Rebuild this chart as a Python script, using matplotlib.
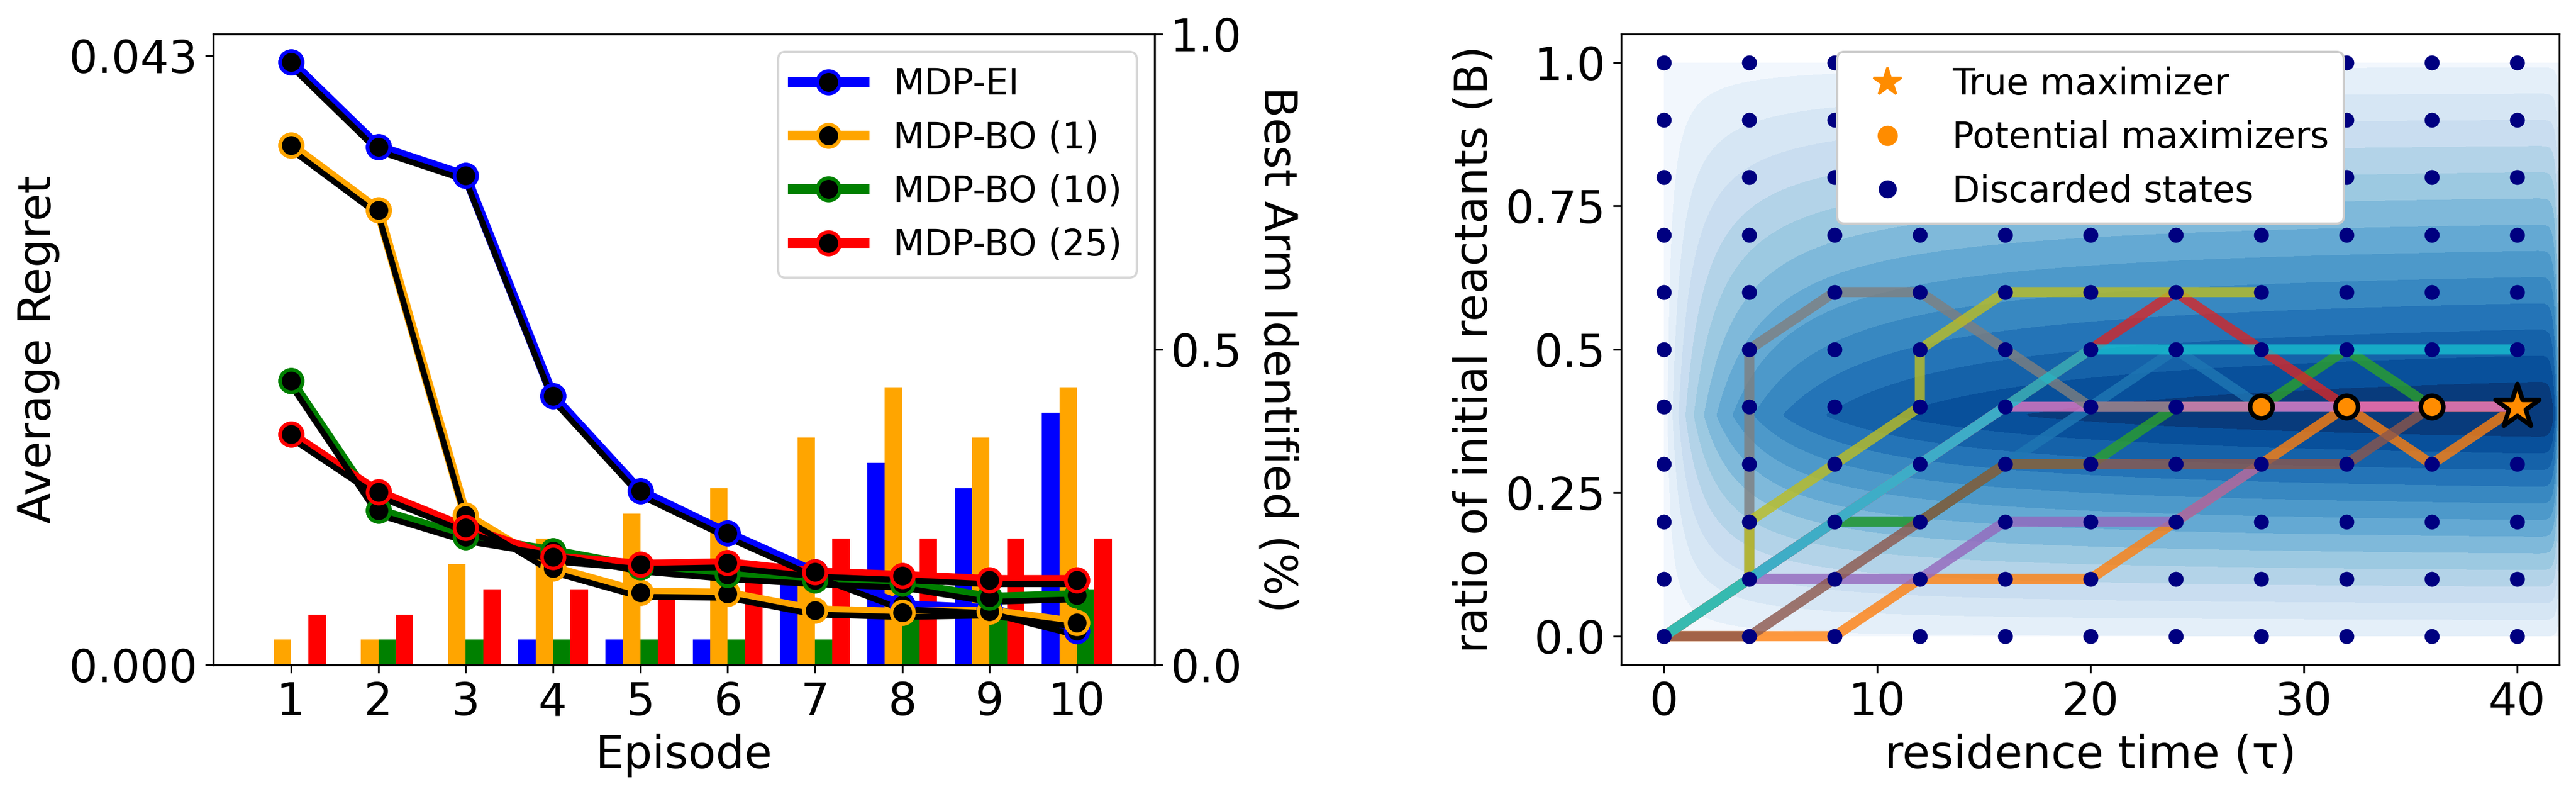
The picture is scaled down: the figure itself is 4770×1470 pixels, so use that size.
import numpy as np
import matplotlib
matplotlib.use("Agg")
import matplotlib.pyplot as plt
from matplotlib.lines import Line2D
from matplotlib.transforms import offset_copy

plt.rcParams['font.family'] = ['DejaVu Sans']
plt.rcParams['font.size'] = 20

# ---------------- Left panel data ----------------
episodes = np.arange(1, 11)
series_names = ['MDP-EI', 'MDP-BO (1)', 'MDP-BO (10)', 'MDP-BO (25)']
series_colors = ['blue', 'orange', 'green', 'red']

regret_ei = [0.04257, 0.03657, 0.03453, 0.01898, 0.01226, 0.00929, 0.00654, 0.00422, 0.00395, 0.00240]
regret_bo1 = [0.03668, 0.03210, 0.01058, 0.00683, 0.00511, 0.00504, 0.00386, 0.00368, 0.00379, 0.00297]
regret_bo10 = [0.02005, 0.01090, 0.00904, 0.00804, 0.00690, 0.00636, 0.00600, 0.00576, 0.00475, 0.00493]
regret_bo25 = [0.01630, 0.01219, 0.00969, 0.00761, 0.00708, 0.00719, 0.00654, 0.00629, 0.00600, 0.00600]

best_ei = [0.00, 0.00, 0.00, 0.04, 0.04, 0.04, 0.16, 0.32, 0.28, 0.40]
best_bo1 = [0.04, 0.04, 0.16, 0.20, 0.24, 0.28, 0.36, 0.44, 0.36, 0.44]
best_bo10 = [0.00, 0.04, 0.04, 0.04, 0.04, 0.04, 0.04, 0.08, 0.08, 0.12]
best_bo25 = [0.08, 0.08, 0.12, 0.12, 0.12, 0.16, 0.20, 0.20, 0.20, 0.20]

regret_max_tick = 0.043
regret_ylim_top = 0.04454

# ---------------- Right panel data ----------------
tau_states = [0, 4, 8, 12, 16, 20, 24, 28, 32, 36, 40]
ratio_states = [0.0, 0.1, 0.2, 0.3, 0.4, 0.5, 0.6, 0.7, 0.8, 0.9, 1.0]

path_blue_x = [0, 4, 8, 12, 16, 20, 24, 28, 32, 36, 40]
path_blue_y = [0.0, 0.1, 0.2, 0.2, 0.3, 0.4, 0.5, 0.4, 0.4, 0.4, 0.4]
path_orange_x = [0, 4, 8, 12, 16, 20, 24, 28, 32, 36, 40]
path_orange_y = [0.0, 0.0, 0.0, 0.1, 0.1, 0.1, 0.2, 0.3, 0.4, 0.3, 0.4]
path_green_x = [0, 4, 8, 12, 16, 20, 24, 28, 32, 36, 40]
path_green_y = [0.0, 0.1, 0.2, 0.2, 0.3, 0.3, 0.4, 0.4, 0.5, 0.4, 0.4]
path_red_x = [0, 4, 8, 12, 16, 20, 24, 28, 32, 36, 40]
path_red_y = [0.0, 0.1, 0.2, 0.3, 0.4, 0.5, 0.6, 0.5, 0.4, 0.4, 0.4]
path_purple_x = [0, 4, 8, 12, 16, 20, 24, 28]
path_purple_y = [0.0, 0.1, 0.1, 0.1, 0.2, 0.2, 0.2, 0.3]
path_brown_x = [0, 4, 8, 12, 16, 20, 24, 28, 32, 36, 40]
path_brown_y = [0.0, 0.0, 0.1, 0.2, 0.3, 0.3, 0.3, 0.3, 0.3, 0.4, 0.4]
path_pink_x = [0, 4, 8, 12, 16, 20, 24, 28, 32, 36, 40]
path_pink_y = [0.0, 0.1, 0.2, 0.3, 0.4, 0.4, 0.4, 0.4, 0.4, 0.4, 0.4]
path_gray_x = [0, 4, 4, 4, 4, 4, 8, 12, 16, 20, 24]
path_gray_y = [0.0, 0.1, 0.2, 0.3, 0.4, 0.5, 0.6, 0.6, 0.5, 0.4, 0.4]
path_olive_x = [0, 4, 4, 8, 12, 12, 16, 20, 24, 28]
path_olive_y = [0.0, 0.1, 0.2, 0.3, 0.4, 0.5, 0.6, 0.6, 0.6, 0.6]
path_cyan_x = [0, 4, 8, 12, 16, 20, 24, 28, 32, 36, 40]
path_cyan_y = [0.0, 0.1, 0.2, 0.3, 0.4, 0.5, 0.5, 0.5, 0.5, 0.5, 0.5]

potential_x = [28, 32, 36]
potential_y = [0.4, 0.4, 0.4]
true_max_x = [40]
true_max_y = [0.4]

# background yield surface parameters
surf_tau_max = 42.0
surf_peak_ratio = 0.385
surf_half_up = 0.645
surf_half_down = 0.41
surf_tau_scale = 3.0
surf_top_level = 0.848
surf_level_step = 0.066
surf_n_levels = 13

# ---------------- Figure ----------------
fig = plt.figure(figsize=(15.9, 4.9), dpi=300)
ax1 = fig.add_axes([0.0828, 0.1626, 0.3654, 0.7946])
ax3 = fig.add_axes([0.6294, 0.1626, 0.3642, 0.7946])

# ---- Left panel ----
ax2 = ax1.twinx()
bar_series = [best_ei, best_bo1, best_bo10, best_bo25]
bar_offsets = [-0.3, -0.1, 0.1, 0.3]
for vals, c, off in zip(bar_series, series_colors, bar_offsets):
    ax2.bar(episodes + off, vals, width=0.2, color=c)
ax2.set_ylim(0, 1.0)
ax2.set_yticks([0.0, 0.5, 1.0])
ax2.set_yticklabels(['0.0', '0.5', '1.0'])
ax2.set_ylabel('Best Arm Identified (%)', rotation=270, va='bottom', labelpad=6)

ax1.set_zorder(ax2.get_zorder() + 1)
ax1.patch.set_visible(False)

shadow_tr = offset_copy(ax1.transData, fig=fig, x=0, y=-1.9, units='points')
regret_series = [regret_ei, regret_bo1, regret_bo10, regret_bo25]
for vals, c, name in zip(regret_series, series_colors, series_names):
    ax1.plot(episodes, vals, color=c, lw=4.3, marker='o', ms=10, mfc='black',
             mec=c, mew=1.6, label=name, zorder=2)
    ax1.plot(episodes, vals, color='black', lw=2.6, transform=shadow_tr, zorder=2.5)
    ax1.plot(episodes, vals, ls='none', marker='o', ms=10, mfc='black',
             mec=c, mew=1.6, zorder=3)

ax1.set_xlim(0.11, 10.89)
ax1.set_ylim(0, regret_ylim_top)
ax1.set_yticks([0.0, regret_max_tick])
ax1.set_yticklabels(['%.3f' % 0.0, '%.3f' % regret_max_tick])
ax1.set_xticks(episodes)
ax1.set_xlabel('Episode')
ax1.set_ylabel('Average Regret')
ax1.legend(loc='upper right', fontsize=16)

# ---- Right panel ----
tau_grid = np.linspace(0, surf_tau_max, 601)
ratio_grid = np.linspace(0, 1, 301)
T, R = np.meshgrid(tau_grid, ratio_grid)
h = T / (T + surf_tau_scale) * (1 - np.exp(-(surf_tau_max - T) / 0.12))
d = R - surf_peak_ratio
g = np.where(d >= 0, 1 - d / surf_half_up, 1 + d / surf_half_down)
Z = h * np.clip(g, 0, None)
lv = surf_top_level - surf_level_step * np.arange(surf_n_levels)
levels = np.concatenate(([Z.min() - 1e-9], np.sort(lv), [Z.max() + 1e-9]))
ax3.contourf(T, R, Z, levels=levels, cmap='Blues', zorder=0)

tab10 = plt.get_cmap('tab10').colors
paths = [(path_blue_x, path_blue_y), (path_orange_x, path_orange_y),
         (path_green_x, path_green_y), (path_red_x, path_red_y),
         (path_purple_x, path_purple_y), (path_brown_x, path_brown_y),
         (path_pink_x, path_pink_y), (path_gray_x, path_gray_y),
         (path_olive_x, path_olive_y), (path_cyan_x, path_cyan_y)]
for i, (px, py) in enumerate(paths):
    ax3.plot(px, py, color=tab10[i], lw=4.5, alpha=0.8, zorder=2,
             solid_capstyle='butt')

GX, GY = np.meshgrid(tau_states, ratio_states)
ax3.scatter(GX.ravel(), GY.ravel(), s=32, color='navy', zorder=3)
ax3.scatter(potential_x, potential_y, s=100, color='darkorange', edgecolors='black',
            linewidths=2, zorder=4)
ax3.scatter(true_max_x, true_max_y, marker='*', s=420, color='darkorange',
            edgecolors='black', linewidths=2, zorder=5)

ax3.set_xlim(-2, 42)
ax3.set_ylim(-0.05, 1.05)
ax3.set_xticks([0, 10, 20, 30, 40])
ax3.set_yticks([0.0, 0.25, 0.5, 0.75, 1.0])
ax3.set_yticklabels(['0.0', '0.25', '0.5', '0.75', '1.0'])
ax3.set_xlabel('residence time (τ)')
ax3.set_ylabel('ratio of initial reactants (B)')

handles = [Line2D([], [], marker='*', color='darkorange', ls='none', ms=13),
           Line2D([], [], marker='o', color='darkorange', ls='none', ms=8),
           Line2D([], [], marker='o', color='navy', ls='none', ms=7)]
leg = ax3.legend(handles, ['True maximizer', 'Potential maximizers', 'Discarded states'],
                 loc='upper center', fontsize=16, framealpha=1.0)
leg.set_zorder(10)

fig.savefig('out.png', dpi=300)
